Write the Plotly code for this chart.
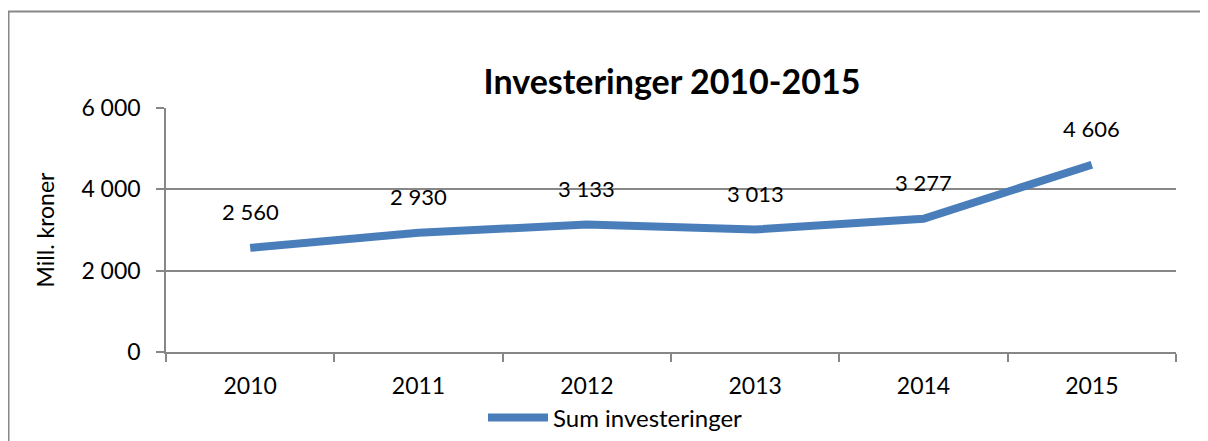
import plotly.graph_objects as go

years = ["2010", "2011", "2012", "2013", "2014", "2015"]
investeringer = [2560, 2930, 3133, 3013, 3277, 4606]
y_tickvals = [0, 2000, 4000, 6000]
y_ticktext = ["0", "2 000", "4 000", "6 000"]

# page body has an 8px margin: work in window pixels, convert to figure pixels
OFF = 8
W, H = 1200, 433
PL, PR, PT, PB = 166, 1176, 108, 352   # plot area in window pixels
L = PL - OFF
R = W - (PR - OFF)
T = PT - OFF
B = H - (PB - OFF)
pw = PR - PL
ph = PB - PT

def px_x(p):
    return (p - PL) / pw

def px_y(p):
    return (PB - p) / ph

FONT = "Lato"
GRID = "#878787"
BLUE = "#4a7ebb"

fig = go.Figure()
fig.add_trace(go.Scatter(
    x=years, y=investeringer, mode="lines", name="Sum investeringer",
    line=dict(color=BLUE, width=8),
))

for i, v in enumerate(investeringer):
    fig.add_annotation(x=i, y=v, text=f"{v:,}".replace(",", " "),
                       showarrow=False, yshift=36,
                       font=dict(family=FONT, size=22, color="black"))

# outer chart border (cut off at right and bottom)
fig.add_shape(type="rect", xref="paper", yref="paper",
              x0=px_x(8.5), x1=px_x(1240), y0=px_y(11.5), y1=px_y(480),
              line=dict(color=GRID, width=2), layer="below")

fig.update_layout(
    width=W, height=H,
    margin=dict(l=L, r=R, t=T, b=B, autoexpand=False),
    paper_bgcolor="white", plot_bgcolor="white",
    font=dict(family=FONT, color="black"),
    title=dict(text="<b>Investeringer 2010-2015</b>", xref="paper", x=px_x(672), xanchor="center",
               y=1 - (82 - OFF) / H, yanchor="middle", yref="container",
               font=dict(family=FONT, size=34, color="black")),
    showlegend=True,
    legend=dict(orientation="h", x=px_x(483), xanchor="left", y=px_y(418), yanchor="middle",
                font=dict(family=FONT, size=24, color="black"), itemwidth=60,
                bgcolor="rgba(0,0,0,0)"),
    xaxis=dict(type="category", range=[-0.5, 5.5], showline=True, linecolor=GRID, linewidth=1.5,
               ticks="outside", tickson="boundaries", ticklen=8, tickcolor=GRID, tickwidth=1.5,
               showgrid=False, tickfont=dict(family=FONT, size=23, color="black"),
               tickangle=0, ticklabelstandoff=13, automargin=False),
    yaxis=dict(range=[0, 6000], tickvals=y_tickvals, ticktext=y_ticktext,
               showline=True, linecolor=GRID, linewidth=1.5,
               ticks="outside", ticklen=8, tickcolor=GRID, tickwidth=1.5,
               showgrid=True, gridcolor=GRID, gridwidth=1.5, zeroline=False,
               tickfont=dict(family=FONT, size=23, color="black"),
               ticklabelstandoff=11, automargin=False,
               title=dict(text="Mill. kroner", font=dict(family=FONT, size=23, color="black"),
                          standoff=20)),
)

fig.write_html("out.html")
